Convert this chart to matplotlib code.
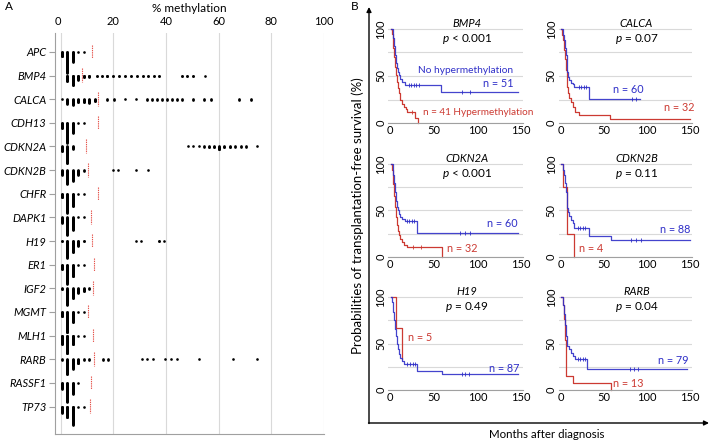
import numpy as np
import matplotlib
matplotlib.use("Agg")
import matplotlib.pyplot as plt

plt.rcParams['font.family'] = ['Lato', 'DejaVu Sans']
plt.rcParams['mathtext.fontset'] = 'custom'
plt.rcParams['mathtext.rm'] = 'Lato'
plt.rcParams['mathtext.it'] = 'Lato:italic'

# ---------------- Panel A data: % methylation (value bins and number of patients) ----------------
genes = ["APC", "BMP4", "CALCA", "CDH13", "CDKN2A", "CDKN2B", "CHFR", "DAPK1",
         "H19", "ER1", "IGF2", "MGMT", "MLH1", "RARB", "RASSF1", "TP73"]

apc_pct = [0.4, 2.5, 4.6, 6.7, 8.8]
apc_n = [12, 53, 25, 1, 1]
bmp4_pct = [2.5, 4.6, 6.7, 8.8, 10.8, 13.7, 15.6, 17.7, 20.0, 22.2, 24.4, 26.7, 28.9,
            31.1, 33.3, 35.4, 37.4, 46.0, 48.1, 50.4, 54.8]
bmp4_n = [15, 25, 11, 5, 4, 2, 2, 3, 2, 2, 2, 2, 2, 2, 2, 2, 2, 2, 2, 2, 1]
calca_pct = [0.4, 2.5, 4.6, 6.7, 8.8, 10.9, 13.0, 17.7, 20.3, 24.4, 28.6, 32.7, 34.6,
             36.5, 38.4, 40.3, 42.2, 44.1, 46.0, 50.4, 54.4, 57.0, 67.9, 72.2]
calca_n = [1, 12, 15, 8, 8, 10, 6, 2, 2, 1, 1, 2, 2, 2, 2, 2, 2, 2, 2, 2, 2, 2, 2, 2]
cdh13_pct = [0.4, 2.5, 4.6, 6.7, 8.8]
cdh13_n = [14, 50, 26, 1, 1]
cdkn2a_pct = [0.4, 2.5, 4.6, 48.3, 50.4, 52.5, 54.6, 56.5, 58.4, 60.3, 62.2, 64.3,
              66.4, 68.5, 70.5, 74.5]
cdkn2a_n = [12, 42, 6, 1, 1, 1, 2, 3, 3, 8, 3, 3, 2, 2, 2, 1]
cdkn2b_pct = [0.4, 2.5, 4.6, 6.7, 8.8, 20.0, 21.9, 28.6, 33.0]
cdkn2b_n = [12, 35, 27, 12, 2, 1, 1, 1, 1]
chfr_pct = [0.4, 2.5, 4.6, 6.7, 8.8]
chfr_n = [10, 48, 32, 1, 1]
dapk1_pct = [0.4, 2.5, 4.6, 6.7, 8.8]
dapk1_n = [14, 44, 32, 1, 1]
h19_pct = [0.4, 2.5, 4.6, 6.7, 8.8, 28.6, 30.4, 37.5, 39.4]
h19_n = [2, 42, 28, 13, 2, 1, 1, 2, 1]
er1_pct = [0.4, 2.5, 4.6, 6.7, 8.8]
er1_n = [12, 48, 30, 1, 1]
igf2_pct = [0.4, 2.5, 4.6, 6.7, 8.8, 10.9]
igf2_n = [3, 42, 25, 12, 8, 2]
mgmt_pct = [0.4, 2.5, 4.6, 6.7, 8.8]
mgmt_n = [12, 52, 26, 1, 1]
mlh1_pct = [0.4, 2.5, 4.6, 6.7, 8.8]
mlh1_n = [22, 45, 23, 1, 1]
rarb_pct = [0.4, 2.5, 4.6, 6.7, 8.8, 10.9, 15.9, 17.8, 30.8, 32.9, 35.2, 39.6, 41.8,
            44.1, 52.7, 65.6, 74.5]
rarb_n = [2, 38, 24, 11, 2, 2, 2, 2, 1, 1, 1, 1, 1, 1, 1, 1, 1]
rassf1_pct = [0.4, 2.5, 4.6, 6.7]
rassf1_n = [15, 48, 28, 1]
tp73_pct = [0.4, 2.5, 4.6, 6.7, 8.8]
tp73_n = [16, 28, 46, 1, 1]

thresholds = [11.7, 8.2, 14.3, 14.3, 9.6, 10.5, 14.3, 11.5, 12.0, 12.7, 12.4, 10.5,
              12.4, 12.7, 11.4, 11.3]

methylation_ticks = [0, 20, 40, 60, 80, 100]

# ---------------- Panel B data: Kaplan-Meier curves (months, % survival) ----------------
bmp4_no_t = [1, 3, 4, 5, 6, 7, 8, 9, 10, 12, 14, 17, 58, 147]
bmp4_no_s = [100, 96, 90, 82, 72, 64, 58, 54, 51, 47, 44, 40, 33, 33]
bmp4_no_c = [22, 24, 27, 30, 33, 83, 92]
bmp4_hy_t = [1, 2, 3, 4, 5, 6, 7, 8, 9, 10, 11, 12, 14, 16, 18, 20, 29, 32]
bmp4_hy_s = [100, 95, 88, 80, 70, 60, 51, 44, 37, 32, 28, 24, 20, 17, 15, 12, 5, 0]
bmp4_hy_c = [25]

calca_no_t = [1, 3, 4, 5, 6, 7, 8, 9, 10, 12, 14, 16, 33, 92]
calca_no_s = [100, 94, 88, 80, 72, 62, 54, 49, 46, 43, 41, 38, 26, 26]
calca_no_c = [21, 24, 27, 30, 83, 88]
calca_hy_t = [1, 2, 3, 4, 5, 6, 7, 8, 9, 10, 12, 14, 17, 22, 57, 150]
calca_hy_s = [100, 94, 88, 78, 68, 56, 46, 38, 32, 27, 22, 17, 12, 8, 4, 4]
calca_hy_c = []

cdkn2a_no_t = [1, 3, 4, 5, 6, 7, 8, 9, 10, 12, 14, 17, 31, 147]
cdkn2a_no_s = [100, 95, 88, 80, 70, 60, 54, 50, 46, 43, 41, 38, 26, 26]
cdkn2a_no_c = [20, 22, 25, 27, 80, 86, 92]
cdkn2a_hy_t = [1, 2, 3, 4, 5, 6, 7, 8, 9, 10, 12, 14, 16, 19, 60]
cdkn2a_hy_s = [100, 94, 86, 78, 66, 54, 43, 34, 28, 23, 19, 16, 13, 11, 0]
cdkn2a_hy_c = [26, 36]

cdkn2b_no_t = [1, 3, 4, 5, 6, 7, 8, 9, 10, 12, 14, 16, 33, 58, 150]
cdkn2b_no_s = [100, 94, 88, 80, 70, 60, 53, 48, 44, 40, 36, 31, 22, 18, 18]
cdkn2b_no_c = [20, 23, 26, 28, 82, 87, 93]
cdkn2b_hy_t = [1, 3, 8, 16]
cdkn2b_hy_s = [100, 75, 25, 0]
cdkn2b_hy_c = []

h19_no_t = [1, 2, 3, 4, 5, 6, 7, 8, 9, 10, 12, 14, 16, 31, 59, 147]
h19_no_s = [100, 95, 90, 84, 76, 66, 58, 50, 44, 39, 34, 31, 28, 21, 17, 17]
h19_no_c = [20, 23, 26, 29, 82, 86, 91]
h19_hy_t = [1, 6.5, 14]
h19_hy_s = [100, 67, 33]
h19_hy_c = []

rarb_no_t = [1, 3, 4, 5, 6, 7, 8, 10, 12, 15, 17, 31, 147]
rarb_no_s = [100, 92, 82, 70, 58, 52, 48, 44, 40, 37, 33, 23, 23]
rarb_no_c = [20, 23, 26, 28, 81, 85, 90]
rarb_hy_t = [1, 3, 4, 5, 6, 14, 58]
rarb_hy_s = [100, 92, 77, 54, 15, 8, 0]
rarb_hy_c = []

km_genes = ["BMP4", "CALCA", "CDKN2A", "CDKN2B", "H19", "RARB"]
km_pvalues = ["< 0.001", "= 0.07", "< 0.001", "= 0.11", "= 0.49", "= 0.04"]
km_n_no = [51, 60, 60, 88, 87, 79]
km_n_hy = [41, 32, 32, 4, 5, 13]

# ---------------- Figure ----------------
W, H = 710, 441
fig = plt.figure(figsize=(W / 100, H / 100), dpi=100)


def rect(l, t, r, b):
    return [l / W, 1 - b / H, (r - l) / W, (b - t) / H]


BLUE = '#2f2fc8'
RED = '#cc3a32'
GRID = '#d9d9d9'
SPINE = '#a0a0a0'

# ---- Panel A ----
axA = fig.add_axes(rect(55, 33, 324, 434))
pct_lists = [apc_pct, bmp4_pct, calca_pct, cdh13_pct, cdkn2a_pct, cdkn2b_pct, chfr_pct,
             dapk1_pct, h19_pct, er1_pct, igf2_pct, mgmt_pct, mlh1_pct, rarb_pct,
             rassf1_pct, tp73_pct]
n_lists = [apc_n, bmp4_n, calca_n, cdh13_n, cdkn2a_n, cdkn2b_n, chfr_n, dapk1_n, h19_n,
           er1_n, igf2_n, mgmt_n, mlh1_n, rarb_n, rassf1_n, tp73_n]
step = 0.017
for i, (pcts, ns) in enumerate(zip(pct_lists, n_lists)):
    xs, ys = [], []
    for v, n in zip(pcts, ns):
        xs.extend([v] * n)
        ys.extend(list(i + np.arange(n) * step))
    axA.plot(xs, ys, 'o', color='black', ms=1.9, mew=0, zorder=3)
    axA.vlines(thresholds[i], i - 0.3, i + 0.27, colors='#e5534b',
               linestyles=(0, (1.2, 0.8)), lw=0.8, zorder=2)

axA.set_xlim(-2.2, 100.1)
axA.set_ylim(16.16, -0.80)
axA.set_yticks(range(len(genes)))
axA.set_yticklabels(genes, fontstyle='italic', fontsize=8)
axA.set_xticks(methylation_ticks)
axA.xaxis.tick_top()
axA.xaxis.set_label_position('top')
axA.set_xlabel('% methylation', fontsize=8.5, labelpad=3)
axA.tick_params(axis='x', length=0, labelsize=8, pad=4)
axA.tick_params(axis='y', length=4, width=0.8, color=SPINE, pad=2)
axA.grid(axis='x', color=GRID, lw=0.8)
axA.set_axisbelow(True)
axA.get_xticklabels()[0].set_horizontalalignment('right')
for s in ['top', 'right']:
    axA.spines[s].set_visible(False)
for s in ['left', 'bottom']:
    axA.spines[s].set_color(SPINE)
    axA.spines[s].set_linewidth(0.8)

# ---- Panel B ----
cols = [(390, 521), (560.5, 690)]
rows = [(29, 123), (164, 256.7), (297.3, 390)]
xlo, xhi = -2, 152
ylo, yhi = 0, 101.5

curves_no = [(bmp4_no_t, bmp4_no_s, bmp4_no_c), (calca_no_t, calca_no_s, calca_no_c),
             (cdkn2a_no_t, cdkn2a_no_s, cdkn2a_no_c), (cdkn2b_no_t, cdkn2b_no_s, cdkn2b_no_c),
             (h19_no_t, h19_no_s, h19_no_c), (rarb_no_t, rarb_no_s, rarb_no_c)]
curves_hy = [(bmp4_hy_t, bmp4_hy_s, bmp4_hy_c), (calca_hy_t, calca_hy_s, calca_hy_c),
             (cdkn2a_hy_t, cdkn2a_hy_s, cdkn2a_hy_c), (cdkn2b_hy_t, cdkn2b_hy_s, cdkn2b_hy_c),
             (h19_hy_t, h19_hy_s, h19_hy_c), (rarb_hy_t, rarb_hy_s, rarb_hy_c)]

# label positions (months, %) for n labels
n_no_pos = [(141, 41.5, 'right'), (78, 35.5, 'center'), (129, 36, 'center'),
            (133, 29, 'center'), (131, 23.4, 'center'), (131, 31.6, 'center')]
n_hy_pos = [(38, 11, 'left'), (137, 16.7, 'center'), (83, 9, 'center'),
            (35, 9, 'center'), (34, 57, 'center'), (79, 6.5, 'center')]


def surv_at(t, s, c):
    idx = np.searchsorted(np.asarray(t), np.asarray(c), side='right') - 1
    return np.asarray(s)[idx]


for k in range(6):
    r, cidx = divmod(k, 2)
    x0, x150 = cols[cidx]
    y100, y0 = rows[r]
    pxm = (x150 - x0) / 150.0
    pyp = (y0 - y100) / 100.0
    l = x0 + (xlo) * pxm
    rr = x0 + xhi * pxm
    t = y0 - yhi * pyp
    b = y0 - ylo * pyp
    ax = fig.add_axes(rect(l, t, rr, b))
    ax.set_xlim(xlo, xhi)
    ax.set_ylim(ylo, yhi)
    ax.set_yticks([0, 50, 100])
    ax.set_yticks([25, 75], minor=True)
    ax.set_xticks([0, 50, 100, 150])
    ax.grid(axis='y', which='both', color=GRID, lw=0.8)
    ax.set_axisbelow(True)
    ax.tick_params(axis='both', which='both', length=0, labelsize=8)
    ax.tick_params(axis='x', pad=1.5)
    ax.tick_params(axis='y', pad=1.5)
    for lab in ax.get_yticklabels():
        lab.set_rotation(90)
        lab.set_va('center')
    for s in ['top', 'right', 'left']:
        ax.spines[s].set_visible(False)
    ax.spines['bottom'].set_color(SPINE)
    ax.spines['bottom'].set_linewidth(0.8)
    ax.patch.set_alpha(0)

    th, sh, ch = curves_hy[k]
    tn, sn, cn = curves_no[k]
    ax.step(th, sh, where='post', color=RED, lw=0.9, clip_on=False)
    ax.step(tn, sn, where='post', color=BLUE, lw=0.9, alpha=0.9, clip_on=False)
    if len(cn):
        ax.plot(cn, surv_at(tn, sn, cn), '|', color=BLUE, ms=3, mew=0.6)
    if len(ch):
        ax.plot(ch, surv_at(th, sh, ch), '|', color=RED, ms=3, mew=0.6)

    ax.text(88, 106, km_genes[k], ha='center', va='center', fontsize=8,
            fontstyle='italic', clip_on=False)
    ax.text(88, 89, '$p$ ' + km_pvalues[k], ha='center', va='center', fontsize=8.5)
    xn, yn, ha = n_no_pos[k]
    ax.text(xn, yn, f'n = {km_n_no[k]}', color=BLUE, ha=ha, va='center', fontsize=7.8)
    xh, yh, ha2 = n_hy_pos[k]
    if k == 0:
        ax.text(xh, yh, f'n = {km_n_hy[k]} Hypermethylation', color=RED, ha=ha2,
                va='center', fontsize=7.2)
        ax.text(86.5, 56, 'No hypermethylation', color=BLUE, ha='center',
                va='center', fontsize=7.3)
    else:
        ax.text(xh, yh, f'n = {km_n_hy[k]}', color=RED, ha=ha2, va='center', fontsize=7.8)

# overlay for arrows and outer labels
ov = fig.add_axes([0, 0, 1, 1])
ov.set_xlim(0, W)
ov.set_ylim(H, 0)
ov.axis('off')
ov.patch.set_alpha(0)
ov.annotate('', xy=(369, 7), xytext=(369, 423.5),
            arrowprops=dict(arrowstyle='-|>', lw=1.0, color='black', shrinkA=0,
                            shrinkB=0, mutation_scale=7))
ov.annotate('', xy=(709, 423), xytext=(368.5, 423),
            arrowprops=dict(arrowstyle='-|>', lw=1.0, color='black', shrinkA=0,
                            shrinkB=0, mutation_scale=7))
ov.text(358, 216, 'Probabilities of transplantation-free survival (%)', rotation=90,
        ha='center', va='center', fontsize=9.5)
ov.text(547, 434, 'Months after diagnosis', ha='center', va='center', fontsize=8.3)
ov.text(5, 7, 'A', ha='left', va='center', fontsize=8.5)
ov.text(351, 6, 'B', ha='left', va='center', fontsize=8.5)

fig.savefig('out.png', dpi=100)
